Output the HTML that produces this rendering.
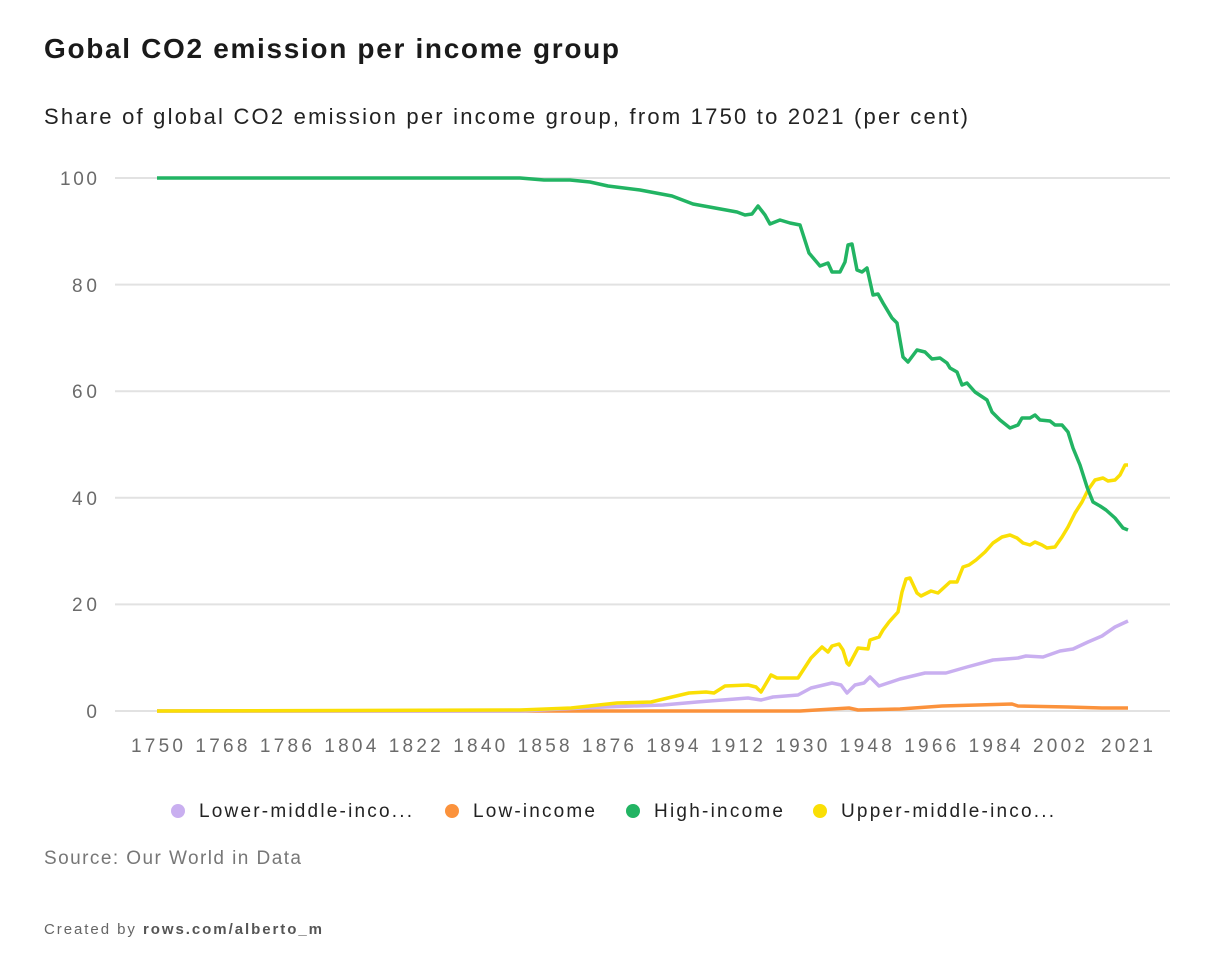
<!DOCTYPE html>
<html><head><meta charset="utf-8"><style>
body{margin:0;background:#fff;width:1218px;height:970px;overflow:hidden;font-family:"Liberation Sans",sans-serif;}
</style></head><body>
<svg width="1218" height="970" xmlns="http://www.w3.org/2000/svg" font-family="Liberation Sans, sans-serif">
<text x="44" y="58" font-size="28" font-weight="bold" fill="#1a1a1a" textLength="575" lengthAdjust="spacing">Gobal CO2 emission per income group</text>
<text x="44" y="124" font-size="22" fill="#222" textLength="924" lengthAdjust="spacing">Share of global CO2 emission per income group, from 1750 to 2021 (per cent)</text>
<g stroke="#e2e2e2" stroke-width="2">
<line x1="115" x2="1170" y1="178" y2="178"/><line x1="115" x2="1170" y1="284.6" y2="284.6"/>
<line x1="115" x2="1170" y1="391.2" y2="391.2"/><line x1="115" x2="1170" y1="497.8" y2="497.8"/>
<line x1="115" x2="1170" y1="604.4" y2="604.4"/><line x1="115" x2="1170" y1="711" y2="711"/>
</g>
<g font-size="19" fill="#6b6b6b" text-anchor="end">
<text x="97" y="185" textLength="37">100</text><text x="97" y="292" textLength="25">80</text><text x="97" y="398" textLength="25">60</text>
<text x="97" y="505" textLength="25">40</text><text x="97" y="611" textLength="25">20</text><text x="97" y="718" textLength="12">0</text>
</g>
<g font-size="19" fill="#6b6b6b" text-anchor="middle">
<text x="157" y="752" textLength="52">1750</text><text x="221.4" y="752" textLength="52">1768</text><text x="285.9" y="752" textLength="52">1786</text>
<text x="350.3" y="752" textLength="52">1804</text><text x="414.7" y="752" textLength="52">1822</text><text x="479.2" y="752" textLength="52">1840</text>
<text x="543.6" y="752" textLength="52">1858</text><text x="608" y="752" textLength="52">1876</text><text x="672.5" y="752" textLength="52">1894</text>
<text x="736.9" y="752" textLength="52">1912</text><text x="801.3" y="752" textLength="52">1930</text><text x="865.8" y="752" textLength="52">1948</text>
<text x="930.2" y="752" textLength="52">1966</text><text x="994.6" y="752" textLength="52">1984</text><text x="1059" y="752" textLength="52">2002</text>
<text x="1127" y="752" textLength="52">2021</text>
</g>
<g fill="none" stroke-width="3.5" stroke-linejoin="round">
<polyline stroke="#fb923c" points="157,711 800,711 849,708 858,710 900,709 942,706 1012,704 1018,706 1068,707 1102,708 1128,708"/>
<polyline stroke="#c9aff0" points="157,711 520,711 604,707 663,705 697,702 748,698 761,700 773,697 798,695 811,688 832,683 841,685 847,693 855,685 864,683 870,677 879,686 900,679 925,673 946,673 967,667 993,660 1018,658 1026,656 1043,657 1060,651 1073,649 1088,642 1102,636 1115,627 1128,621"/>
<polyline stroke="#fadf05" points="157,711 520,710 571,708 617,703 651,702 672,697 689,693 706,692 714,693 725,686 748,685 756,687 761,692 771,675 777,678 798,678 811,658 822,647 828,652 832,646 839,644 843,650 847,663 849,665 858,648 868,649 870,640 879,637 883,630 889,622 898,612 902,592 906,579 910,578 917,593 921,596 931,591 938,593 950,582 957,582 963,567 969,565 976,560 985,552 993,543 1002,537 1010,535 1017,538 1023,543 1030,545 1035,542 1042,545 1047,548 1055,547 1062,537 1068,527 1075,513 1082,502 1088,490 1095,480 1103,478 1108,481 1115,480 1120,475 1125,465 1128,465"/>
<polyline stroke="#22b463" points="157,178 520,178 544,180 570,180 590,182 608,186 640,190 672,196 693,204 715,208 737,212 745,215 752,214 758,206 765,215 770,224 780,220 790,223 800,225 809,253 820,266 828,263 832,272 840,272 845,262 848,245 852,244 857,270 862,272 867,268 873,295 878,294 883,303 892,318 897,323 903,357 908,362 917,350 925,352 932,359 940,358 947,363 950,368 957,372 962,385 967,383 975,392 987,400 992,412 1000,420 1010,428 1018,425 1022,418 1030,418 1035,415 1040,420 1050,421 1055,425 1062,425 1068,432 1073,448 1080,465 1087,487 1093,502 1100,506 1106,510 1115,518 1123,528 1128,530"/>
</g>
<g font-size="19" fill="#222">
<circle cx="178" cy="811" r="7" fill="#c9aff0"/><text x="199" y="817" textLength="213">Lower-middle-inco...</text>
<circle cx="452" cy="811" r="7" fill="#fb923c"/><text x="473" y="817" textLength="122">Low-income</text>
<circle cx="633" cy="811" r="7" fill="#22b463"/><text x="654" y="817" textLength="129">High-income</text>
<circle cx="820" cy="811" r="7" fill="#fadf05"/><text x="841" y="817" textLength="213">Upper-middle-inco...</text>
</g>
<text x="44" y="864" font-size="19" fill="#777" textLength="257">Source: Our World in Data</text>
<text x="44" y="934" font-size="15" fill="#666" textLength="278">Created by <tspan font-weight="bold" fill="#555">rows.com/alberto_m</tspan></text>
</svg>
</body></html>
